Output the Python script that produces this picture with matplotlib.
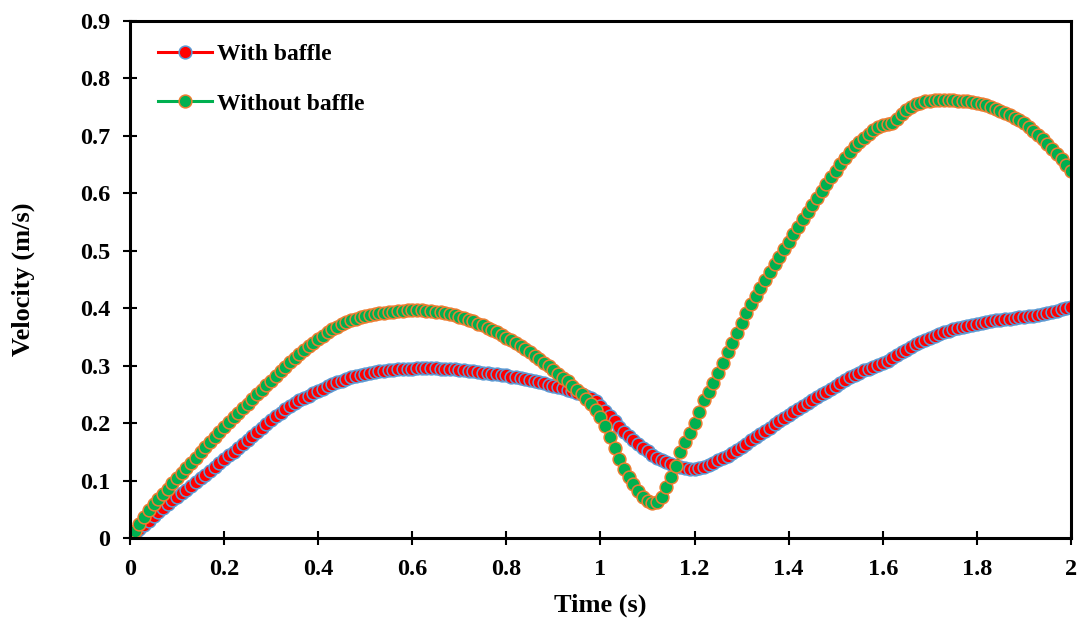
import matplotlib
matplotlib.use('Agg')
import matplotlib.pyplot as plt
import numpy as np

plt.rcParams['font.family'] = ['Liberation Serif', 'DejaVu Serif']
plt.rcParams['font.weight'] = 'bold'

# time samples, every 0.01 s from 0 to 2
time = np.round(np.arange(0, 2.001, 0.01), 2)

# velocity with baffle (m/s)
with_baffle = [
    0.000, 0.007, 0.015, 0.022, 0.030, 0.038, 0.045, 0.052, 0.059, 0.066,
    0.072, 0.078, 0.084, 0.091, 0.097, 0.104, 0.110, 0.117, 0.123, 0.130,
    0.137, 0.144, 0.150, 0.157, 0.164, 0.171, 0.178, 0.185, 0.192, 0.199,
    0.205, 0.212, 0.218, 0.224, 0.230, 0.235, 0.240, 0.244, 0.248, 0.252,
    0.256, 0.260, 0.264, 0.268, 0.271, 0.274, 0.277, 0.280, 0.282, 0.284,
    0.286, 0.288, 0.289, 0.290, 0.291, 0.292, 0.293, 0.294, 0.294, 0.295,
    0.295, 0.296, 0.296, 0.296, 0.296, 0.296, 0.295, 0.295, 0.294, 0.294,
    0.293, 0.292, 0.291, 0.290, 0.289, 0.288, 0.287, 0.286, 0.285, 0.284,
    0.283, 0.281, 0.280, 0.278, 0.277, 0.275, 0.273, 0.271, 0.269, 0.267,
    0.265, 0.263, 0.261, 0.258, 0.256, 0.253, 0.250, 0.247, 0.244, 0.239,
    0.229, 0.221, 0.212, 0.203, 0.194, 0.185, 0.177, 0.170, 0.163, 0.157,
    0.151, 0.145, 0.140, 0.136, 0.132, 0.128, 0.125, 0.123, 0.122, 0.121,
    0.121, 0.122, 0.124, 0.127, 0.131, 0.135, 0.139, 0.143, 0.148, 0.153,
    0.159, 0.164, 0.170, 0.175, 0.181, 0.186, 0.192, 0.198, 0.204, 0.209,
    0.215, 0.220, 0.225, 0.230, 0.235, 0.240, 0.245, 0.250, 0.255, 0.260,
    0.265, 0.270, 0.275, 0.280, 0.284, 0.288, 0.292, 0.295, 0.298, 0.301,
    0.305, 0.309, 0.313, 0.318, 0.323, 0.328, 0.333, 0.337, 0.341, 0.345,
    0.349, 0.352, 0.355, 0.358, 0.361, 0.363, 0.365, 0.367, 0.369, 0.371,
    0.373, 0.375, 0.376, 0.378, 0.379, 0.380, 0.381, 0.382, 0.383, 0.384,
    0.385, 0.386, 0.387, 0.388, 0.390, 0.392, 0.394, 0.396, 0.398, 0.400,
    0.403,
]

# velocity without baffle (m/s)
without_baffle = [
    0.000, 0.012, 0.024, 0.036, 0.048, 0.059, 0.068, 0.077, 0.086, 0.095,
    0.104, 0.113, 0.122, 0.131, 0.140, 0.149, 0.158, 0.167, 0.176, 0.185,
    0.194, 0.202, 0.210, 0.218, 0.226, 0.234, 0.242, 0.250, 0.258, 0.266,
    0.274, 0.282, 0.290, 0.298, 0.306, 0.313, 0.320, 0.327, 0.334, 0.340,
    0.346, 0.352, 0.358, 0.363, 0.368, 0.372, 0.376, 0.379, 0.382, 0.385,
    0.387, 0.389, 0.390, 0.391, 0.392, 0.393, 0.394, 0.395, 0.396, 0.397,
    0.397, 0.397, 0.397, 0.396, 0.395, 0.394, 0.393, 0.392, 0.390, 0.388,
    0.385, 0.383, 0.380, 0.377, 0.373, 0.370, 0.366, 0.362, 0.358, 0.353,
    0.349, 0.344, 0.339, 0.334, 0.329, 0.323, 0.317, 0.311, 0.305, 0.299,
    0.293, 0.286, 0.279, 0.273, 0.265, 0.258, 0.250, 0.242, 0.233, 0.222,
    0.210, 0.195, 0.176, 0.157, 0.138, 0.120, 0.106, 0.094, 0.082, 0.071,
    0.064, 0.061, 0.062, 0.072, 0.088, 0.107, 0.126, 0.149, 0.168, 0.183,
    0.200, 0.220, 0.240, 0.255, 0.270, 0.287, 0.305, 0.323, 0.340, 0.357,
    0.375, 0.392, 0.407, 0.421, 0.435, 0.449, 0.463, 0.477, 0.490, 0.503,
    0.516, 0.529, 0.542, 0.555, 0.568, 0.580, 0.592, 0.604, 0.616, 0.628,
    0.639, 0.651, 0.662, 0.672, 0.682, 0.690, 0.697, 0.704, 0.710, 0.715,
    0.719, 0.721, 0.722, 0.730, 0.738, 0.745, 0.751, 0.755, 0.758, 0.760,
    0.761, 0.762, 0.762, 0.762, 0.762, 0.762, 0.761, 0.761, 0.760, 0.759,
    0.758, 0.756, 0.753, 0.750, 0.747, 0.743, 0.740, 0.736, 0.732, 0.728,
    0.722, 0.716, 0.709, 0.702, 0.694, 0.686, 0.677, 0.668, 0.659, 0.649,
    0.639,
]

x_ticks = [0, 0.2, 0.4, 0.6, 0.8, 1, 1.2, 1.4, 1.6, 1.8, 2]
x_tick_labels = ['0', '0.2', '0.4', '0.6', '0.8', '1', '1.2', '1.4', '1.6', '1.8', '2']
y_ticks = [0, 0.1, 0.2, 0.3, 0.4, 0.5, 0.6, 0.7, 0.8, 0.9]
y_tick_labels = ['0', '0.1', '0.2', '0.3', '0.4', '0.5', '0.6', '0.7', '0.8', '0.9']

fig = plt.figure(figsize=(10.78, 6.18), dpi=100)
ax = fig.add_axes([0.1206, 0.1294, 0.8729, 0.8366])

ax.plot(time, with_baffle, color='#FF0000', lw=2.2, marker='o', ms=9.2,
        mfc='#FF0000', mec='#5B9BD5', mew=1.1, label='With baffle')
ax.plot(time, without_baffle, color='#00B050', lw=2.2, marker='o', ms=9.2,
        mfc='#00B050', mec='#ED7D31', mew=1.1, label='Without baffle')

ax.set_xlim(0, 2)
ax.set_ylim(0, 0.9)
ax.set_xticks(x_ticks)
ax.set_xticklabels(x_tick_labels)
ax.set_yticks(y_ticks)
ax.set_yticklabels(y_tick_labels)

for s in ax.spines.values():
    s.set_linewidth(2.2)
    s.set_color('black')
ax.tick_params(direction='inout', length=10, width=1.5, labelsize=17.5, pad=9)
ax.tick_params(axis='x', pad=10)

ax.set_xlabel('Time (s)', fontsize=19, fontweight='bold')
ax.set_ylabel('Velocity (m/s)', fontsize=19, fontweight='bold')
ax.xaxis.set_label_coords(0.5, -0.108)
ax.yaxis.set_label_coords(-0.101, 0.5)

ax.legend(loc='upper left', bbox_to_anchor=(0.0198, 0.975), borderaxespad=0,
          frameon=False, handlelength=2.3, handletextpad=0.2, labelspacing=1.19,
          prop={'weight': 'bold', 'size': 17})

fig.savefig('out.png', dpi=100)
